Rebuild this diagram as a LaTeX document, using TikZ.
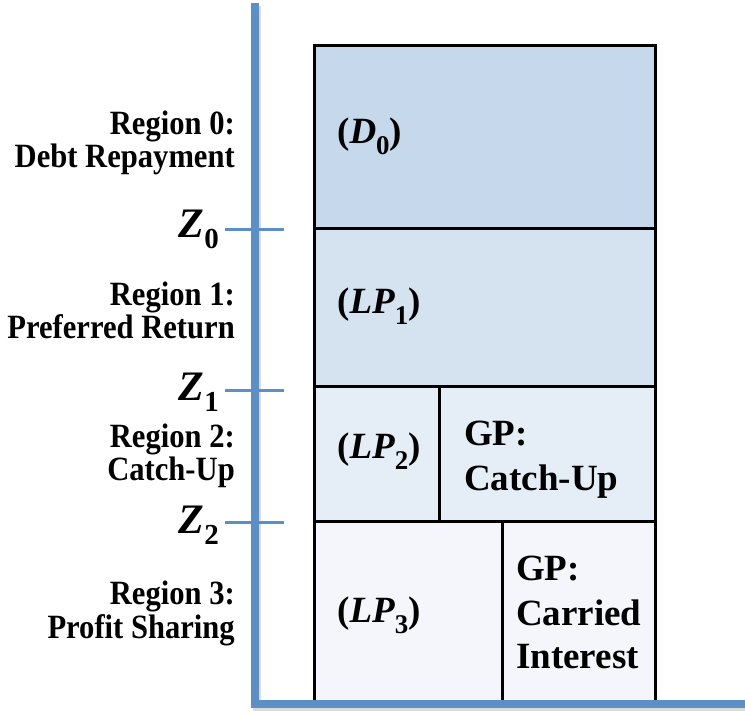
\documentclass[tikz,border=0pt]{standalone}
\usepackage{fontspec}
\setmainfont{Liberation Serif}
\newfontfamily\lblfont[FakeStretch=0.9]{Liberation Serif}
\definecolor{axisblue}{RGB}{91,143,198}
\definecolor{rzero}{RGB}{197,216,236}
\definecolor{rone}{RGB}{213,226,239}
\definecolor{rtwo}{RGB}{229,238,247}
\definecolor{rthree}{RGB}{245,246,251}
\newcommand{\bsub}[1]{\raisebox{-11pt}{\fontsize{27}{27}\selectfont\bfseries\upshape #1}}
\newcommand{\zsub}[1]{\raisebox{-11pt}{\fontsize{29}{29}\selectfont\bfseries\upshape #1}}
\tikzset{
  cell/.style={draw=black, line width=3pt},
  lbl/.style={inner sep=0pt, anchor=base east, font=\lblfont\bfseries\fontsize{34}{36}\selectfont},
  boxtxt/.style={inner sep=0pt, anchor=base west, font=\bfseries\fontsize{37}{44}\selectfont},
  zlbl/.style={inner sep=0pt, anchor=base east, font=\bfseries\fontsize{42}{44}\selectfont},
  axisline/.style={draw=axisblue, line width=8pt, line join=miter},
  tickline/.style={draw=axisblue, line width=3pt},
}
\begin{document}
\begin{tikzpicture}[x=1pt,y=-1pt]
\useasboundingbox (0,0) rectangle (745,713);
% cells
\draw[cell, fill=rzero] (314,45) rectangle (655,228);
\draw[cell, fill=rone] (314,228) rectangle (655,386);
\draw[cell, fill=rtwo] (314,386) rectangle (439,521);
\draw[cell, fill=rtwo] (439,386) rectangle (655,521);
\draw[cell, fill=rthree] (314,521) rectangle (502,702);
\draw[cell, fill=rthree] (502,521) rectangle (655,702);
% axes
\coordinate (atop) at (254.5,3);
\coordinate (acorner) at (254.5,703.5);
\coordinate (aright) at (745,703.5);
\draw[line width=8pt, draw=black!40, opacity=0.35, line join=miter] ([shift={(2,3)}]atop) -- ([shift={(2,3)}]acorner) -- ([shift={(2,3)}]aright);
\draw[axisline] (atop) -- (acorner) -- (aright);
% ticks
\coordinate (t0a) at (225,229); \coordinate (t0b) at (284,229);
\coordinate (t1a) at (225,390); \coordinate (t1b) at (284,390);
\coordinate (t2a) at (225,522); \coordinate (t2b) at (284,522);
\draw[tickline] (t0a) -- (t0b);
\draw[tickline] (t1a) -- (t1b);
\draw[tickline] (t2a) -- (t2b);
% Z labels
\node[zlbl] (z0) at (219,237) {\textit{Z}\zsub{0}};
\node[zlbl] (z1) at (219,400) {\textit{Z}\zsub{1}};
\node[zlbl] (z2) at (219,533) {\textit{Z}\zsub{2}};
% region labels
\node[lbl] (r0a) at (235,134) {Region 0:};
\node[lbl] (r0b) at (235,167) {Debt Repayment};
\node[lbl] (r1a) at (235,305) {Region 1:};
\node[lbl] (r1b) at (235,338) {Preferred Return};
\node[lbl] (r2a) at (235,447) {Region 2:};
\node[lbl] (r2b) at (235,480) {Catch-Up};
\node[lbl] (r3a) at (235,604) {Region 3:};
\node[lbl] (r3b) at (235,638) {Profit Sharing};
% box texts
\node[boxtxt] (d0) at (337,143) {(\textit{D}\bsub{0})};
\node[boxtxt] (lp1) at (337,313) {(\textit{LP}\bsub{1})};
\node[boxtxt] (lp2) at (337,458) {(\textit{LP}\bsub{2})};
\node[boxtxt] (gp2a) at (464,445) {GP:};
\node[boxtxt] (gp2b) at (464,490) {Catch-Up};
\node[boxtxt] (lp3) at (337,622) {(\textit{LP}\bsub{3})};
\node[boxtxt] (gp3a) at (516,580) {GP:};
\node[boxtxt] (gp3b) at (516,625) {Carried};
\node[boxtxt] (gp3c) at (516,668) {Interest};
\end{tikzpicture}
\end{document}
